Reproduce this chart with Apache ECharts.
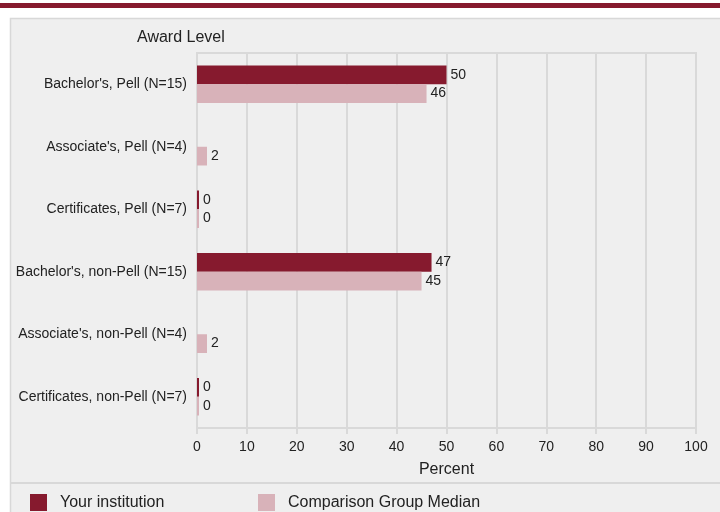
<!DOCTYPE html>
<html><head><meta charset="utf-8">
<script src="https://cdn.jsdelivr.net/npm/echarts@6/dist/echarts.min.js"></script>
<style>html,body{margin:0;padding:0;background:#fff}#c{width:720px;height:512px}</style>
</head><body><div id="c"></div>
<script>
const categories = ["Bachelor's, Pell (N=15)", "Associate's, Pell (N=4)", "Certificates, Pell (N=7)", "Bachelor's, non-Pell (N=15)", "Associate's, non-Pell (N=4)", "Certificates, non-Pell (N=7)"];
const yourInstitution = [50, null, 0, 47, null, 0];
const comparisonMedian = [46, 2, 0, 45, 2, 0];
const xTicks = [0, 10, 20, 30, 40, 50, 60, 70, 80, 90, 100];
const seriesNames = ["Your institution", "Comparison Group Median"];

const FONT = 'Liberation Sans, Arial, sans-serif';
const DARK = '#861a2e', PINK = '#d8b2b9', LINE = '#d9d9d9';
const chart = echarts.init(document.getElementById('c'), null, {renderer: 'canvas'});
const lbl = {show: true, position: 'right', distance: 4, fontSize: 14, color: '#222', fontFamily: FONT, padding: [3, 0, 0, 0]};
chart.setOption({
  backgroundColor: '#ffffff',
  animation: false,
  graphic: [
    {type: 'rect', shape: {x: 0, y: 3, width: 720, height: 5}, style: {fill: DARK}, z: -10},
    {type: 'rect', shape: {x: 10.5, y: 18.5, width: 720, height: 510}, style: {fill: '#efefef', stroke: '#d8d8d8', lineWidth: 1.5}, z: -10},
    {type: 'line', shape: {x1: 11, y1: 483, x2: 720, y2: 483}, style: {stroke: '#d8d8d8', lineWidth: 2}, z: -9}
  ],
  title: {text: 'Award Level', left: 137, top: 30, padding: 0,
    textStyle: {fontSize: 16, fontWeight: 'normal', color: '#222', fontFamily: FONT}},
  legend: [
    {data: [seriesNames[0]], left: 30, top: 494, itemWidth: 17, itemHeight: 17, padding: 0,
      icon: 'rect', textStyle: {fontSize: 16, color: '#222', fontFamily: FONT, padding: [0, 0, 0, 8]}},
    {data: [seriesNames[1]], left: 258, top: 494, itemWidth: 17, itemHeight: 17, padding: 0,
      icon: 'rect', textStyle: {fontSize: 16, color: '#222', fontFamily: FONT, padding: [0, 0, 0, 8]}}
  ],
  grid: {left: 197, right: 24, top: 53, bottom: 84, show: true, borderColor: LINE, borderWidth: 2, backgroundColor: 'transparent'},
  xAxis: {
    type: 'value', min: 0, max: 100, interval: 10,
    name: 'Percent', nameLocation: 'middle', nameGap: 34,
    nameTextStyle: {fontSize: 16, color: '#222', fontFamily: FONT},
    axisLine: {show: false},
    axisTick: {show: true, length: 6, lineStyle: {color: LINE, width: 2}},
    axisLabel: {fontSize: 14, color: '#222', fontFamily: FONT, margin: 12,
      formatter: v => xTicks.includes(v) ? String(v) : ''},
    splitLine: {show: true, lineStyle: {color: LINE, width: 2}}
  },
  yAxis: {
    type: 'category', data: categories, inverse: true,
    axisLine: {show: false}, axisTick: {show: false},
    axisLabel: {fontSize: 14, color: '#222', fontFamily: FONT, margin: 10, padding: [4, 0, 0, 0]}
  },
  series: [
    {name: seriesNames[0], type: 'bar', data: yourInstitution, barGap: '0%', barCategoryGap: '40%',
      barMinHeight: 2, itemStyle: {color: DARK}, label: lbl},
    {name: seriesNames[1], type: 'bar', data: comparisonMedian,
      barMinHeight: 2, itemStyle: {color: PINK}, label: lbl}
  ]
});
</script></body></html>
